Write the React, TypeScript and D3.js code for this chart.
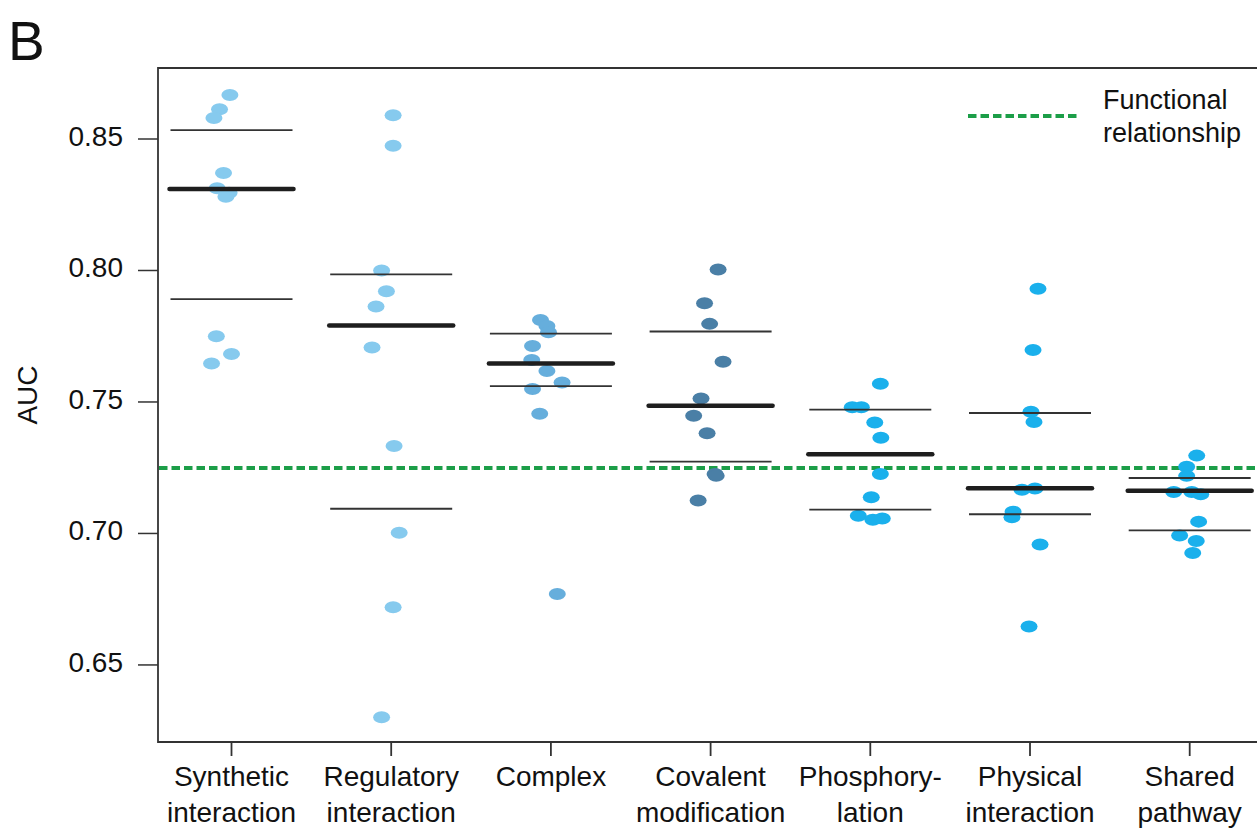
import React from "react";
import * as d3 from "d3";

const categories: string[][] = [
  ["Synthetic", "interaction"],
  ["Regulatory", "interaction"],
  ["Complex"],
  ["Covalent", "modification"],
  ["Phosphory-", "lation"],
  ["Physical", "interaction"],
  ["Shared", "pathway"],
];

const synthetic = [0.8667, 0.8613, 0.858, 0.8371, 0.8313, 0.8296, 0.828, 0.775, 0.7682, 0.7646];
const regulatory = [0.859, 0.8474, 0.8, 0.7921, 0.7863, 0.7707, 0.7333, 0.7003, 0.6719, 0.6301];
const complex = [0.7812, 0.7789, 0.7765, 0.7713, 0.766, 0.7618, 0.7574, 0.7549, 0.7455, 0.677];
const covalent = [0.8004, 0.7875, 0.7797, 0.7653, 0.7513, 0.7448, 0.7381, 0.7226, 0.7219, 0.7125];
const phospho = [0.7569, 0.748, 0.748, 0.7422, 0.7364, 0.7226, 0.7138, 0.7067, 0.7052, 0.7057];
const physical = [0.7931, 0.7698, 0.7463, 0.7424, 0.7166, 0.7171, 0.7083, 0.7062, 0.6958, 0.6646];
const shared = [0.7296, 0.7254, 0.7219, 0.7158, 0.7158, 0.7149, 0.7045, 0.6992, 0.6971, 0.6926];

// horizontal jitter of each point, as fraction of category spacing
const jitterSynthetic = [-0.01, -0.075, -0.11, -0.05, -0.09, -0.015, -0.035, -0.095, 0.0, -0.125];
const jitterRegulatory = [0.012, 0.012, -0.06, -0.03, -0.095, -0.12, 0.018, 0.05, 0.012, -0.06];
const jitterComplex = [-0.065, -0.025, -0.015, -0.115, -0.12, -0.025, 0.07, -0.115, -0.07, 0.04];
const jitterCovalent = [0.047, -0.038, -0.006, 0.078, -0.06, -0.106, -0.022, 0.028, 0.035, -0.078];
const jitterPhospho = [0.063, -0.113, -0.056, 0.028, 0.066, 0.063, 0.006, -0.075, 0.016, 0.075];
const jitterPhysical = [0.05, 0.019, 0.006, 0.025, -0.05, 0.031, -0.106, -0.113, 0.063, -0.006];
const jitterShared = [0.044, -0.019, -0.019, -0.1, 0.013, 0.069, 0.056, -0.063, 0.041, 0.019];

const medians = [0.831, 0.7791, 0.7646, 0.7486, 0.7301, 0.7172, 0.7162];
const upperQuartiles = [0.8534, 0.7985, 0.776, 0.7768, 0.7471, 0.7458, 0.7211];
const lowerQuartiles = [0.7891, 0.7094, 0.756, 0.7273, 0.7091, 0.7073, 0.7012];

const functionalRelationship = 0.7249;
const yTicks = [0.65, 0.7, 0.75, 0.8, 0.85];

const colors = ["#86caee", "#86caee", "#66aedc", "#4a7fa6", "#1ab0ec", "#1ab0ec", "#1ab0ec"];

const series = [synthetic, regulatory, complex, covalent, phospho, physical, shared];
const jitters = [jitterSynthetic, jitterRegulatory, jitterComplex, jitterCovalent, jitterPhospho, jitterPhysical, jitterShared];

const W = 1257;
const H = 831;
const left = 158;
const top = 68;
const bottom = 742;
const right = 1280;

const FONT = "'Liberation Sans', Arial, Helvetica, sans-serif";

export default function App() {
  const y = d3.scaleLinear().domain([0.6207, 0.877]).range([bottom, top]);
  const keys = categories.map((c) => c.join(" "));
  const x = d3.scalePoint<string>().domain(keys).range([231.5, 1189.7]);
  const step = x.step();
  const medHalf = 62;
  const qHalf = 61;

  return (
    <svg
      width={W}
      height={H}
      style={{ position: "absolute", left: 0, top: 0, background: "#fff" }}
      fontFamily={FONT}
    >
      <rect x={0} y={0} width={W} height={H} fill="#fff" />
      <text x={8} y={60} fontSize={55} fill="#111">B</text>

      {/* frame */}
      <path
        d={`M${right},${top}H${left}V${bottom}H${right}`}
        fill="none"
        stroke="#333"
        strokeWidth={1.8}
      />

      {/* y ticks */}
      {yTicks.map((t) => (
        <g key={t}>
          <line x1={left - 20} x2={left} y1={y(t)} y2={y(t)} stroke="#333" strokeWidth={1.5} />
          <text x={123} y={y(t) + 7} fontSize={28} textAnchor="end" fill="#111">
            {t.toFixed(2)}
          </text>
        </g>
      ))}
      <text transform={`translate(37,395) rotate(-90)`} fontSize={28} textAnchor="middle" fill="#111">
        AUC
      </text>

      {/* x ticks and labels */}
      {categories.map((c, i) => {
        const cx = x(keys[i])!;
        return (
          <g key={i}>
            <line x1={cx} x2={cx} y1={bottom} y2={bottom + 14} stroke="#333" strokeWidth={1.8} />
            {c.map((line, j) => (
              <text key={j} x={cx} y={786 + j * 36} fontSize={28} textAnchor="middle" fill="#111">
                {line}
              </text>
            ))}
          </g>
        );
      })}

      {/* reference line */}
      <line
        x1={left + 1}
        x2={right}
        y1={y(functionalRelationship)}
        y2={y(functionalRelationship)}
        stroke="#1c9e48"
        strokeWidth={4}
        strokeDasharray="8.5 4"
      />

      {/* points */}
      {series.map((vals, i) => {
        const cx = x(keys[i])!;
        return (
          <g key={i}>
            {vals.map((v, j) => (
              <ellipse
                key={j}
                cx={cx + jitters[i][j] * step}
                cy={y(v)}
                rx={8.5}
                ry={6}
                fill={colors[i]}
              />
            ))}
          </g>
        );
      })}

      {/* quartiles and medians */}
      {categories.map((_, i) => {
        const cx = x(keys[i])!;
        return (
          <g key={i}>
            <line x1={cx - qHalf} x2={cx + qHalf} y1={y(upperQuartiles[i])} y2={y(upperQuartiles[i])} stroke="#333" strokeWidth={1.8} />
            <line x1={cx - qHalf} x2={cx + qHalf} y1={y(lowerQuartiles[i])} y2={y(lowerQuartiles[i])} stroke="#333" strokeWidth={1.8} />
            <line
              x1={cx - medHalf}
              x2={cx + medHalf}
              y1={y(medians[i])}
              y2={y(medians[i])}
              stroke="#1e1e1e"
              strokeWidth={4.5}
              strokeLinecap="round"
            />
          </g>
        );
      })}

      {/* legend */}
      <line x1={968} x2={1078} y1={116} y2={116} stroke="#1c9e48" strokeWidth={4} strokeDasharray="8.5 4" />
      <text x={1103} y={109} fontSize={27} fill="#111">Functional</text>
      <text x={1103} y={142} fontSize={27} fill="#111">relationship</text>
    </svg>
  );
}
